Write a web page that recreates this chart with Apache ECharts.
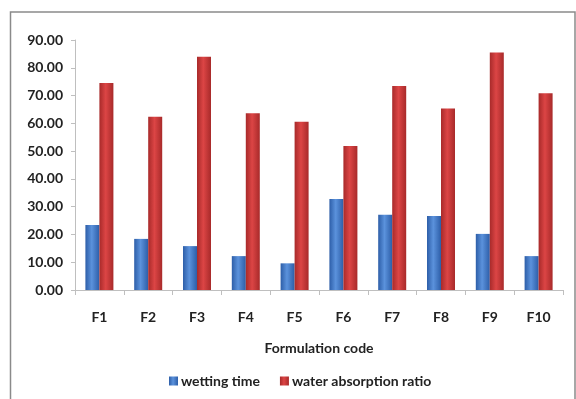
<!DOCTYPE html>
<html>
<head>
<meta charset="utf-8">
<script src="https://cdn.jsdelivr.net/npm/echarts@6/dist/echarts.min.js"></script>
<style>html,body{margin:0;padding:0;background:#fff}#c{width:576px;height:399px}</style>
</head>
<body>
<div id="c"></div>
<script>
const categories = ['F1','F2','F3','F4','F5','F6','F7','F8','F9','F10'];
const wettingTime = [23.4, 18.4, 15.8, 12.2, 9.6, 32.8, 27.1, 26.6, 20.2, 12.2];
const waterAbsorption = [74.5, 62.4, 84.0, 63.6, 60.6, 51.8, 73.4, 65.3, 85.5, 70.8];
const yTicks = { min: 0, max: 90, interval: 10 };
const seriesNames = ['wetting time', 'water absorption ratio'];

const FONT = 'Lato, "Open Sans", sans-serif';
function grad(dark, light) {
  return new echarts.graphic.LinearGradient(0, 0, 1, 0, [
    { offset: 0, color: dark },
    { offset: 0.45, color: light },
    { offset: 1, color: dark }
  ]);
}
const chart = echarts.init(document.getElementById('c'));
chart.setOption({
  animation: false,
  backgroundColor: '#fff',
  textStyle: { fontFamily: FONT },
  graphic: [{
    type: 'rect', silent: true, z: -1,
    shape: { x: 10.5, y: 12, width: 564.5, height: 400 },
    style: { fill: 'none', stroke: '#8a8a8a', lineWidth: 1.5 }
  }],
  grid: { left: 75, right: 13, top: 40, bottom: 109 },
  legend: {
    bottom: 6,
    left: 164,
    itemWidth: 9, itemHeight: 9, itemGap: 20,
    icon: 'rect',
    textStyle: { fontFamily: FONT, fontWeight: 'bold', fontSize: 14, color: '#222', padding: [0, 0, 0, -2] },
    data: seriesNames
  },
  xAxis: {
    type: 'category',
    data: categories,
    name: 'Formulation code',
    nameLocation: 'middle',
    nameGap: 51,
    nameTextStyle: { fontFamily: FONT, fontWeight: 'bold', fontSize: 14, color: '#222' },
    axisLine: { lineStyle: { color: '#bfbfbf' } },
    axisTick: { show: true, interval: 0, length: 5, lineStyle: { color: '#bfbfbf' } },
    axisLabel: { margin: 20, fontFamily: FONT, fontWeight: 'bold', fontSize: 14, color: '#222', interval: 0 }
  },
  yAxis: {
    type: 'value',
    min: yTicks.min, max: yTicks.max, interval: yTicks.interval,
    axisLine: { show: true, lineStyle: { color: '#bfbfbf' } },
    axisTick: { show: true, length: 4, lineStyle: { color: '#bfbfbf' } },
    splitLine: { show: false },
    axisLabel: { margin: 12, fontFamily: FONT, fontWeight: 'bold', fontSize: 14, color: '#222',
      formatter: v => v.toFixed(2) }
  },
  series: [
    {
      name: seriesNames[0], type: 'bar', data: wettingTime,
      barWidth: 14, barGap: '0%',
      itemStyle: { color: grad('#2d5ea8', '#5b92dc') }
    },
    {
      name: seriesNames[1], type: 'bar', data: waterAbsorption,
      barWidth: 14, barGap: '0%',
      itemStyle: { color: grad('#a82a2a', '#dc4545') }
    }
  ]
});
</script>
</body>
</html>
